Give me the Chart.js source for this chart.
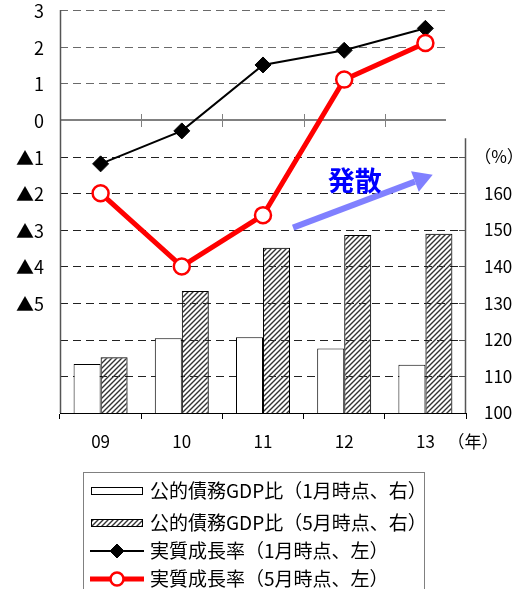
<!DOCTYPE html>
<html lang="ja">
<head>
<meta charset="utf-8">
<title>実質成長率と公的債務GDP比</title>
<script src="https://cdn.jsdelivr.net/npm/chart.js@4.4.1/dist/chart.umd.min.js"></script>
<style>
  html, body { margin: 0; padding: 0; background: #fff; }
  #wrap { position: relative; width: 526px; height: 589px; overflow: hidden; }
  #legend {
    position: absolute; left: 83px; top: 472px; width: 342px; height: 140px;
    border: 1px solid #808080; box-sizing: border-box; background: #fff;
    font-family: "Noto Sans CJK JP", sans-serif; font-size: 19px; color: #000;
  }
  .row { position: absolute; left: 6px; height: 28px; line-height: 28px; white-space: nowrap; }
  .row canvas { vertical-align: middle; margin-right: 6px; position: relative; top: -2px; }
  .ylab {
    position: absolute; left: 0; width: 44px; height: 24px; line-height: 24px;
    text-align: right; white-space: nowrap; color: #000;
    font-family: "Noto Sans CJK JP", sans-serif; font-size: 18px;
  }
</style>
</head>
<body>
<div id="wrap">
  <canvas id="chart" width="526" height="589"></canvas>
  <div id="legend"></div>
</div>
<script>
const FONT = '"Noto Sans CJK JP", sans-serif';

// years on the x axis
const years = ["09", "10", "11", "12", "13"];

// public debt / GDP (%), right axis
const debtJan = [113.4, 120.4, 120.7, 117.6, 113.2];
const debtMay = [115.2, 133.3, 145.1, 148.6, 148.9];

// real growth rate (%), left axis
const growthJan = [-1.2, -0.3, 1.5, 1.9, 2.5];
const growthMay = [-2.0, -4.0, -2.6, 1.1, 2.1];

// tick labels
const growthTicks = [3, 2, 1, 0, -1, -2, -3, -4, -5];
const growthTickLabels = ["3", "2", "1", "0", "▲1", "▲2", "▲3", "▲4", "▲5"];
const debtTicks = [100, 110, 120, 130, 140, 150, 160];
const debtUnit = "（%）";
const yearUnit = "（年）";

const legendLabels = [
  "公的債務GDP比（1月時点、右）",
  "公的債務GDP比（5月時点、右）",
  "実質成長率（1月時点、左）",
  "実質成長率（5月時点、左）",
];

/* ---------------- HATCH ---------------- */

// diagonal stripes on a transparent tile, so grid lines show through
function hatchTile() {
  const c = document.createElement("canvas");
  c.width = 5;
  c.height = 5;
  const g = c.getContext("2d");
  g.strokeStyle = "#333";
  g.lineWidth = 1.4;
  g.beginPath();
  g.moveTo(-1, 6); g.lineTo(6, -1);
  g.moveTo(-1, 1); g.lineTo(1, -1);
  g.moveTo(4, 6); g.lineTo(6, 4);
  g.stroke();
  return c;
}

const hatch = document.getElementById("chart").getContext("2d").createPattern(hatchTile(), "repeat");

// fixed axis sizes, without the extra room chart.js keeps for end labels
function fixWidth(s) {
  s.width = 60;
  s.paddingTop = 0;
  s.paddingBottom = 0;
}

/* ---------------- AXIS FRAME ---------------- */

const framePlugin = {
  id: "frame",
  beforeDatasetsDraw(chart) {
    const ctx = chart.ctx;
    const { left, right, top, bottom } = chart.chartArea;
    const y = chart.scales.y;
    const y1 = chart.scales.y1;
    const x = chart.scales.x;
    const upperRight = right - 20;

    ctx.save();

    // dashed grid
    ctx.lineWidth = 1;
    ctx.setLineDash([8, 5]);
    y.ticks.forEach((t) => {
      if (t.value === 0 || t.value === y.min) return;
      const py = Math.round(y.getPixelForValue(t.value)) + 0.5;
      ctx.strokeStyle = t.value > 0 ? "#6a6a6a" : "#222";
      ctx.beginPath();
      ctx.moveTo(left, py);
      ctx.lineTo(t.value > 0 ? upperRight : right, py);
      ctx.stroke();
    });
    ctx.setLineDash([]);

    // zero line with category ticks
    const py0 = Math.round(y.getPixelForValue(0));
    ctx.strokeStyle = "#808080";
    ctx.lineWidth = 2;
    ctx.beginPath();
    ctx.moveTo(left, py0);
    ctx.lineTo(upperRight, py0);
    ctx.stroke();
    ctx.lineWidth = 1;
    for (let i = 1; i < years.length; i++) {
      const px = Math.round(x.getPixelForValue(i - 0.5)) + 0.5;
      ctx.beginPath();
      ctx.moveTo(px, py0 - 6);
      ctx.lineTo(px, py0 + 7);
      ctx.stroke();
    }

    // left axis
    ctx.strokeStyle = "#555";
    ctx.lineWidth = 1.5;
    ctx.beginPath();
    ctx.moveTo(left + 0.5, top);
    ctx.lineTo(left + 0.5, bottom);
    ctx.stroke();

    // right axis, only over the debt range
    const ry = y1.getPixelForValue(175);
    ctx.beginPath();
    ctx.moveTo(right - 0.5, ry);
    ctx.lineTo(right - 0.5, bottom);
    ctx.stroke();
    ctx.lineWidth = 1;
    for (let v = 110; v <= 170; v += 10) {
      const py = Math.round(y1.getPixelForValue(v)) + 0.5;
      ctx.beginPath();
      ctx.moveTo(right - 7, py);
      ctx.lineTo(right, py);
      ctx.stroke();
    }

    // units
    ctx.font = "17px " + FONT;
    ctx.fillStyle = "#000";
    ctx.textAlign = "center";
    ctx.textBaseline = "middle";
    ctx.fillText(debtUnit, right + 33, y1.getPixelForValue(170));
    ctx.fillText(yearUnit, right + 7, bottom + 29);
    ctx.restore();
  },
  afterDraw(chart) {
    const ctx = chart.ctx;
    const x = chart.scales.x;
    const y1 = chart.scales.y1;

    ctx.save();
    // divergence arrow
    const x0 = x.getPixelForValue(2.37), yA = y1.getPixelForValue(150.6);
    const x1 = x.getPixelForValue(4.09), yB = y1.getPixelForValue(165);
    const ang = Math.atan2(yB - yA, x1 - x0);
    const headLen = 19, headHalf = 11;
    const bx = x1 - Math.cos(ang) * headLen, by = yB - Math.sin(ang) * headLen;
    ctx.strokeStyle = "#8080ff";
    ctx.fillStyle = "#8080ff";
    ctx.lineWidth = 6;
    ctx.beginPath();
    ctx.moveTo(x0, yA);
    ctx.lineTo(bx, by);
    ctx.stroke();
    ctx.beginPath();
    ctx.moveTo(x1, yB);
    ctx.lineTo(bx + Math.sin(ang) * headHalf, by - Math.cos(ang) * headHalf);
    ctx.lineTo(bx - Math.sin(ang) * headHalf, by + Math.cos(ang) * headHalf);
    ctx.closePath();
    ctx.fill();

    ctx.font = "bold 27px " + FONT;
    ctx.fillStyle = "#0000ff";
    ctx.textAlign = "center";
    ctx.textBaseline = "middle";
    ctx.fillText("発散", x.getPixelForValue(3.13), y1.getPixelForValue(163.5));
    ctx.restore();
  },
};

/* ---------------- CHART ---------------- */

const chart = new Chart(document.getElementById("chart"), {
  type: "bar",
  data: {
    labels: years,
    datasets: [
      {
        type: "line",
        label: legendLabels[2],
        data: growthJan,
        yAxisID: "y",
        borderColor: "#000",
        borderWidth: 2,
        pointStyle: "rectRot",
        pointRadius: 8,
        pointBackgroundColor: "#000",
        pointBorderColor: "#000",
        pointBorderWidth: 1,
        order: 1,
      },
      {
        type: "line",
        label: legendLabels[3],
        data: growthMay,
        yAxisID: "y",
        borderColor: "#ff0000",
        borderWidth: 5,
        pointStyle: "circle",
        pointRadius: 8,
        pointBackgroundColor: "#fff",
        pointBorderColor: "#ff0000",
        pointBorderWidth: 2.5,
        order: 0,
      },
      {
        label: legendLabels[0],
        data: debtJan,
        yAxisID: "y1",
        backgroundColor: "#fff",
        borderColor: "#000",
        borderWidth: 1,
        barPercentage: 1,
        categoryPercentage: 0.665,
        order: 2,
      },
      {
        label: legendLabels[1],
        data: debtMay,
        yAxisID: "y1",
        backgroundColor: hatch,
        borderColor: "#000",
        borderWidth: 1,
        barPercentage: 1,
        categoryPercentage: 0.665,
        order: 2,
      },
    ],
  },
  options: {
    responsive: false,
    animation: false,
    devicePixelRatio: 1,
    layout: { autoPadding: false, padding: { top: 10, bottom: 136, left: 0, right: 0 } },
    plugins: { legend: { display: false }, tooltip: { enabled: false } },
    scales: {
      x: {
        offset: true,
        grid: { display: true, drawOnChartArea: false, offset: true, tickLength: 6, color: "#000" },
        border: { display: true, color: "#000", width: 1 },
        ticks: { font: { family: FONT, size: 17 }, color: "#000", padding: 12, maxRotation: 0 },
        afterFit(s) { s.height = 40; },
      },
      y: {
        position: "left",
        min: -8,
        max: 3,
        ticks: {
          display: false,
          stepSize: 1,
          callback(v) {
            const i = growthTicks.indexOf(v);
            return i < 0 ? "" : growthTickLabels[i];
          },
        },
        grid: { display: false, drawTicks: false },
        border: { display: false },
        afterFit: fixWidth,
      },
      y1: {
        position: "right",
        min: 100,
        max: 210,
        ticks: {
          stepSize: 10,
          font: { family: FONT, size: 17 },
          color: "#000",
          padding: 18,
          callback(v) {
            return debtTicks.includes(v) ? String(v) : "";
          },
        },
        grid: { display: false, drawTicks: false },
        border: { display: false },
        afterFit: fixWidth,
      },
    },
  },
  plugins: [framePlugin],
});

/* ---------------- LEFT TICK LABELS ---------------- */

const wrap = document.getElementById("wrap");
const yScale = chart.scales.y;
yScale.ticks.forEach((t) => {
  if (!t.label) return;
  const d = document.createElement("div");
  d.className = "ylab";
  d.textContent = t.label;
  d.style.top = yScale.getPixelForValue(t.value) - 12 + "px";
  wrap.appendChild(d);
});

/* ---------------- LEGEND ---------------- */

const legendRows = [17, 49, 77, 105];
const legendOrder = [2, 3, 0, 1];

function drawSymbol(ds) {
  const c = document.createElement("canvas");
  c.width = 54;
  c.height = 20;
  const g = c.getContext("2d");
  if (ds.type === "line") {
    g.strokeStyle = ds.borderColor;
    g.lineWidth = ds.borderWidth;
    g.beginPath();
    g.moveTo(0, 10);
    g.lineTo(54, 10);
    g.stroke();
    g.lineWidth = ds.pointBorderWidth;
    g.fillStyle = ds.pointBackgroundColor;
    g.strokeStyle = ds.pointBorderColor;
    g.beginPath();
    if (ds.pointStyle === "circle") {
      g.arc(27, 10, 6.5, 0, Math.PI * 2);
    } else {
      g.moveTo(27, 3); g.lineTo(34, 10); g.lineTo(27, 17); g.lineTo(20, 10); g.closePath();
    }
    g.fill();
    g.stroke();
  } else {
    g.fillStyle = ds.backgroundColor === hatch ? g.createPattern(hatchTile(), "repeat") : ds.backgroundColor;
    g.fillRect(1, 6, 52, 8);
    g.strokeStyle = "#000";
    g.lineWidth = 1;
    g.strokeRect(1.5, 6.5, 51, 7);
  }
  return c;
}

const legendEl = document.getElementById("legend");
legendOrder.forEach((di, r) => {
  const ds = chart.data.datasets[di];
  const row = document.createElement("div");
  row.className = "row";
  row.style.top = legendRows[r] - 14 + "px";
  row.appendChild(drawSymbol(ds));
  row.appendChild(document.createTextNode(ds.label));
  legendEl.appendChild(row);
});
</script>
</body>
</html>
